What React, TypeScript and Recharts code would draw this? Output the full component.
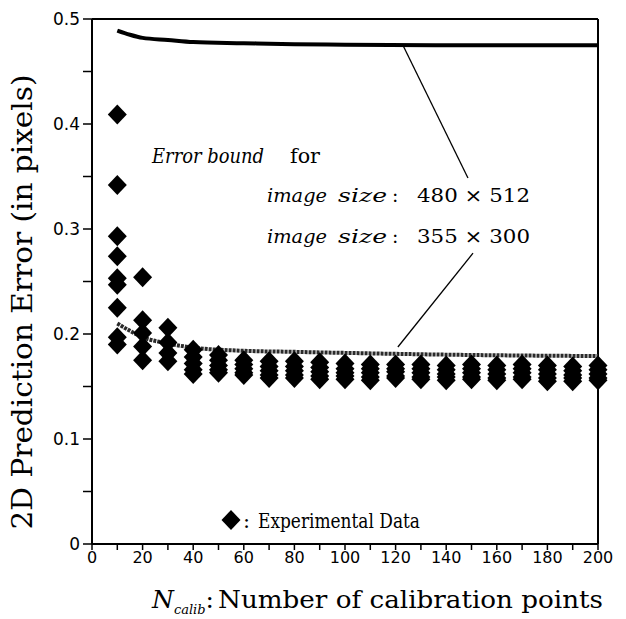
import type { ReactElement } from 'react';
import {
    ComposedChart,
    Line,
    ReferenceLine,
    Scatter,
    XAxis,
    YAxis,
} from 'recharts';

// number of calibration points used in each trial
const CALIB_COUNTS = [10, 20, 30, 40, 50, 60, 70, 80, 90, 100, 110, 120, 130, 140, 150, 160, 170, 180, 190, 200];

// measured 2D prediction errors (pixels), one list per calibration count
const EXP_ERRORS = [
    [0.409, 0.342, 0.293, 0.274, 0.253, 0.247, 0.225, 0.197, 0.19],
    [0.254, 0.213, 0.201, 0.188, 0.175],
    [0.206, 0.192, 0.182, 0.174],
    [0.185, 0.178, 0.172, 0.166, 0.162],
    [0.18, 0.175, 0.17, 0.166, 0.163],
    [0.175, 0.171, 0.167, 0.163, 0.161],
    [0.174, 0.169, 0.165, 0.161, 0.158],
    [0.174, 0.169, 0.165, 0.161, 0.158],
    [0.173, 0.168, 0.164, 0.16, 0.157],
    [0.172, 0.167, 0.163, 0.16, 0.157],
    [0.171, 0.167, 0.163, 0.159, 0.156],
    [0.171, 0.167, 0.164, 0.16, 0.158],
    [0.171, 0.167, 0.163, 0.159, 0.157],
    [0.17, 0.166, 0.162, 0.159, 0.156],
    [0.171, 0.167, 0.163, 0.159, 0.157],
    [0.17, 0.166, 0.162, 0.158, 0.156],
    [0.171, 0.167, 0.163, 0.159, 0.157],
    [0.17, 0.166, 0.162, 0.158, 0.155],
    [0.169, 0.165, 0.161, 0.158, 0.155],
    [0.17, 0.166, 0.162, 0.158, 0.156],
];

// theoretical error bounds
const BOUND_X = [10, 15, 20, 30, 40, 60, 80, 100, 150, 200];
const BOUND_480x512 = [0.489, 0.485, 0.482, 0.48, 0.478, 0.477, 0.476, 0.4755, 0.475, 0.475];
const BOUND_355x300 = [0.21, 0.203, 0.197, 0.191, 0.187, 0.184, 0.183, 0.182, 0.18, 0.179];

const X_TICKS = [0, 10, 20, 30, 40, 50, 60, 70, 80, 90, 100, 110, 120, 130, 140, 150, 160, 170, 180, 190, 200];
const Y_TICKS = [0, 0.05, 0.1, 0.15, 0.2, 0.25, 0.3, 0.35, 0.4, 0.45, 0.5];

const W = 626;
const H = 619;
const SERIF = 'DejaVu Serif';
const SANS = 'DejaVu Sans';

const expPoints = CALIB_COUNTS.flatMap((n, i) => EXP_ERRORS[i].map((e) => ({ x: n, y: e })));
const bound480 = BOUND_X.map((x, i) => ({ x, y: BOUND_480x512[i] }));
const bound355 = BOUND_X.map((x, i) => ({ x, y: BOUND_355x300[i] }));

function Diamond(props: { cx?: number; cy?: number }): ReactElement {
    const { cx = 0, cy = 0 } = props;
    const hw = 9.5;
    const hh = 10;
    return (
        <polygon
            points={`${cx},${cy - hh} ${cx + hw},${cy} ${cx},${cy + hh} ${cx - hw},${cy}`}
            fill="#000"
        />
    );
}

const fmtX = (v: number) => (v % 20 === 0 ? String(v) : '');
const fmtY = (v: number) => {
    const k = Math.round(v * 100);
    if (k % 10 !== 0) return '';
    return k === 0 ? '0' : (k / 100).toFixed(1);
};

// small helper for the serif labels laid over the plot
function Txt(props: {
    x: number;
    y: number;
    size: number;
    italic?: boolean;
    len?: number;
    children: string;
}): ReactElement {
    const { x, y, size, italic, len, children } = props;
    return (
        <text
            x={x}
            y={y}
            fontFamily={SERIF}
            fontSize={size}
            fontStyle={italic ? 'italic' : 'normal'}
            fill="#000"
            textLength={len}
            lengthAdjust={len ? 'spacingAndGlyphs' : undefined}
        >
            {children}
        </text>
    );
}

export default function App(): ReactElement {
    return (
        <div style={{ position: 'absolute', left: 0, top: 0, width: W, height: H, background: '#fff' }}>
            <ComposedChart
                width={W}
                height={H}
                margin={{ top: 19, right: 28, bottom: 45, left: 0 }}
            >
                <XAxis
                    type="number"
                    dataKey="x"
                    domain={[0, 200]}
                    ticks={X_TICKS}
                    tickFormatter={fmtX}
                    interval={0}
                    height={30}
                    tickSize={6}
                    tickMargin={2}
                    stroke="#000"
                    axisLine={{ stroke: '#000', strokeWidth: 2 }}
                    tickLine={{ stroke: '#000', strokeWidth: 1.5 }}
                    tick={{ fill: '#000', fontSize: 16, fontFamily: SANS }}
                />
                <YAxis
                    type="number"
                    dataKey="y"
                    domain={[0, 0.5]}
                    ticks={Y_TICKS}
                    tickFormatter={fmtY}
                    interval={0}
                    width={92}
                    tickSize={9}
                    tickMargin={3}
                    stroke="#000"
                    axisLine={{ stroke: '#000', strokeWidth: 2 }}
                    tickLine={{ stroke: '#000', strokeWidth: 1.5 }}
                    tick={{ fill: '#000', fontSize: 17, fontFamily: SANS }}
                />
                {/* frame: top and right edges */}
                <ReferenceLine y={0.5} stroke="#000" strokeWidth={2} />
                <ReferenceLine x={200} stroke="#000" strokeWidth={2} />

                <Scatter data={expPoints} dataKey="y" shape={<Diamond />} isAnimationActive={false} />

                <Line
                    data={bound480}
                    dataKey="y"
                    type="monotone"
                    stroke="#000"
                    strokeWidth={4}
                    dot={false}
                    isAnimationActive={false}
                />
                <Line
                    data={bound355}
                    dataKey="y"
                    type="monotone"
                    stroke="#2a2a2a"
                    strokeWidth={4}
                    strokeDasharray="3 1"
                    dot={false}
                    isAnimationActive={false}
                />

                {/* leader lines from the labels to the curves */}
                <ReferenceLine
                    segment={[{ x: 122.9, y: 0.475 }, { x: 148.6, y: 0.3486 }]}
                    stroke="#000"
                    strokeWidth={1.3}
                />
                <ReferenceLine
                    segment={[{ x: 150.6, y: 0.277 }, { x: 120.9, y: 0.1876 }]}
                    stroke="#000"
                    strokeWidth={1.3}
                />
            </ComposedChart>

            <svg
                width={W}
                height={H}
                style={{ position: 'absolute', left: 0, top: 0, pointerEvents: 'none' }}
            >
                {/* annotation */}
                <Txt x={152} y={163} size={20} italic len={112}>Error  bound</Txt>
                <Txt x={290} y={163} size={20} len={30}>for</Txt>

                <Txt x={267} y={202} size={19} italic len={60}>image</Txt>
                <Txt x={338} y={202} size={19} italic len={49}>size</Txt>
                <Txt x={392} y={202} size={19}>:</Txt>
                <Txt x={417} y={202} size={19} len={113}>480 × 512</Txt>

                <Txt x={267} y={243} size={19} italic len={60}>image</Txt>
                <Txt x={338} y={243} size={19} italic len={49}>size</Txt>
                <Txt x={392} y={243} size={19}>:</Txt>
                <Txt x={417} y={243} size={19} len={113}>355 × 300</Txt>

                {/* legend */}
                <polygon points="231,510 240.5,520 231,530 221.5,520" fill="#000" />
                <Txt x={243} y={528} size={21}>:</Txt>
                <Txt x={258} y={528} size={21} len={162}>Experimental Data</Txt>

                {/* axis titles */}
                <text
                    transform="translate(32, 302) rotate(-90)"
                    textAnchor="middle"
                    fontFamily={SERIF}
                    fontSize={27}
                    textLength={455}
                    lengthAdjust="spacingAndGlyphs"
                >
                    2D Prediction Error (in pixels)
                </text>
                <text x={152} y={608} fontFamily={SERIF} fontSize={25} fill="#000">
                    <tspan fontStyle="italic">N</tspan>
                    <tspan fontStyle="italic" fontSize={13} dy={6}>calib</tspan>
                    <tspan dy={-6}>:</tspan>
                </text>
                <Txt x={218} y={608} size={25} len={385}>Number of calibration points</Txt>
            </svg>
        </div>
    );
}
